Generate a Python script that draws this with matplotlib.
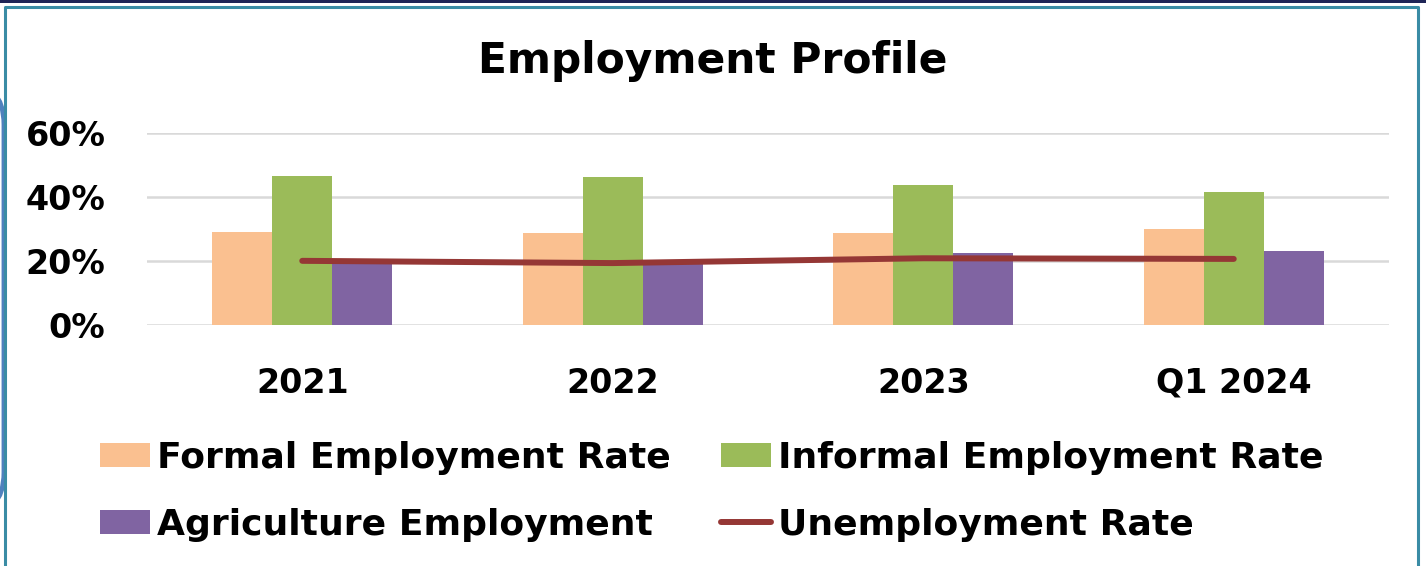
import matplotlib
matplotlib.use("Agg")
import matplotlib.pyplot as plt
import numpy as np
from matplotlib.patches import FancyBboxPatch, Rectangle
from matplotlib.lines import Line2D

# Data (percent)
categories = ["2021", "2022", "2023", "Q1 2024"]
formal_rate = [29.0, 28.8, 28.8, 30.0]
informal_rate = [46.4, 46.0, 43.7, 41.3]
agriculture_rate = [19.6, 19.3, 22.3, 23.0]
unemployment_rate = [20.0, 19.3, 20.8, 20.6]
y_ticks = [0, 20, 40, 60]

C_FORMAL = "#FAC090"
C_INFORMAL = "#9BBB59"
C_AGRI = "#8064A2"
C_UNEMP = "#953735"
C_GRID = "#D9D9D9"

W, H = 1426, 566
fig = plt.figure(figsize=(W / 100, H / 100), dpi=100)
fig.patch.set_facecolor("white")

def fx(px):
    return px / W

def fy(py):
    return 1 - py / H

ax = fig.add_axes([fx(147), fy(325), fx(1389) - fx(147), fy(132.5) - fy(325)])

x = np.arange(len(categories))
bw = 0.193
ax.bar(x - bw, formal_rate, bw, color=C_FORMAL, label="Formal Employment Rate", zorder=2)
ax.bar(x, informal_rate, bw, color=C_INFORMAL, label="Informal Employment Rate", zorder=2)
ax.bar(x + bw, agriculture_rate, bw, color=C_AGRI, label="Agriculture Employment", zorder=2)
ax.plot(x, unemployment_rate, color=C_UNEMP, lw=4.3, solid_capstyle="round",
        label="Unemployment Rate", zorder=3)

ax.set_xlim(-0.5, len(categories) - 0.5)
ax.set_ylim(0, 60)
ax.set_yticks(y_ticks)
ax.set_yticklabels([f"{v}%" for v in y_ticks])
ax.set_xticks(x)
ax.set_xticklabels(categories)
for v in y_ticks:
    ax.axhline(v, color=C_GRID, lw=1.8, zorder=1)
for s in ax.spines.values():
    s.set_visible(False)
ax.tick_params(axis="both", length=0, labelsize=24)
ax.tick_params(axis="y", pad=30)
ax.tick_params(axis="x", pad=30)
for lab in ax.get_xticklabels() + ax.get_yticklabels():
    lab.set_fontweight("bold")

fig.text(0.5, fy(61), "Employment Profile", ha="center", va="center",
         fontsize=30.5, fontweight="bold")

handles, labels = ax.get_legend_handles_labels()
lab_map = dict(zip(labels, handles))
names = ["Formal Employment Rate", "Agriculture Employment",
         "Informal Employment Rate", "Unemployment Rate"]
leg = fig.legend([lab_map[n] for n in names], names, ncol=2,
                 loc="upper left", bbox_to_anchor=(fx(100), fy(441)),
                 frameon=False, prop={"weight": "bold", "size": 26},
                 handlelength=1.39, handleheight=0.66, handletextpad=0.19,
                 columnspacing=1.39, labelspacing=0.9,
                 borderpad=0, borderaxespad=0)

# Frame decorations
fig.add_artist(Rectangle((0, fy(2.5)), 1, fy(0) - fy(2.5), transform=fig.transFigure,
                         color="#1F2557", lw=0))
fig.add_artist(Line2D([fx(5), fx(5), fx(1418), fx(1418)], [0, fy(6.5), fy(6.5), 0],
                      transform=fig.transFigure, color="#3A8CA5", lw=2.2))
fig.add_artist(FancyBboxPatch((fx(-300), fy(515)), fx(304), fy(82) - fy(515),
                              boxstyle="round,pad=0,rounding_size=0.03",
                              transform=fig.transFigure, fill=False,
                              ec="#4F81BD", lw=3.5, mutation_aspect=2.5))

fig.savefig("out.png", dpi=100, facecolor="white")
